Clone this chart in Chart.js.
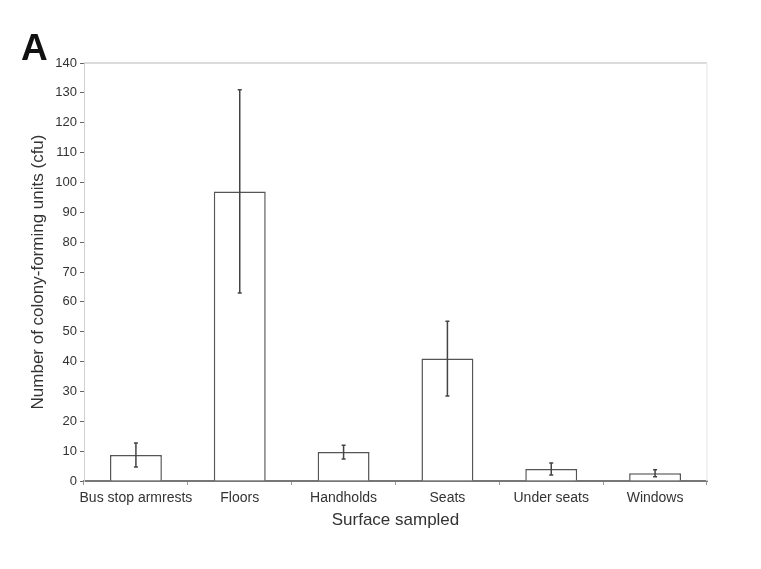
<!DOCTYPE html>
<html>
<head>
<meta charset="utf-8">
<script src="https://cdn.jsdelivr.net/npm/chart.js@4.4.1/dist/chart.umd.min.js"></script>
<style>
html,body{margin:0;padding:0;background:#fff;}
#wrap{width:761px;height:569px;position:relative;}
</style>
</head>
<body>
<div id="wrap"><canvas id="c" width="761" height="569"></canvas></div>
<script>
const categories = ["Bus stop armrests", "Floors", "Handholds", "Seats", "Under seats", "Windows"];
const meanCfu = [8.7, 97, 9.7, 41, 4.0, 2.6];
const errCfu = [4.0, 34, 2.3, 12.5, 2.0, 1.2];
const yTicks = [0, 10, 20, 30, 40, 50, 60, 70, 80, 90, 100, 110, 120, 130, 140];
const panelLabel = "A";

const FONT = "'Liberation Sans', Arial, sans-serif";

const errorBars = {
  id: 'errorBars',
  afterDatasetsDraw(chart) {
    const ctx = chart.ctx;
    const meta = chart.getDatasetMeta(0);
    const y = chart.scales.y;
    ctx.save();
    ctx.strokeStyle = '#444';
    ctx.lineWidth = 1.5;
    meta.data.forEach((bar, i) => {
      const x = bar.x;
      const yt = y.getPixelForValue(meanCfu[i] + errCfu[i]);
      const yb = y.getPixelForValue(meanCfu[i] - errCfu[i]);
      ctx.beginPath();
      ctx.moveTo(x, yt); ctx.lineTo(x, yb);
      ctx.moveTo(x - 2, yt); ctx.lineTo(x + 2, yt);
      ctx.moveTo(x - 2, yb); ctx.lineTo(x + 2, yb);
      ctx.stroke();
    });
    ctx.restore();
  }
};

const frame = {
  id: 'frame',
  beforeDatasetsDraw(chart) {
    const {ctx, chartArea: a} = chart;
    ctx.save();
    ctx.lineWidth = 1.5;
    ctx.strokeStyle = '#cfcfcf';
    ctx.beginPath(); ctx.moveTo(a.left, a.top); ctx.lineTo(a.right, a.top); ctx.stroke();
    ctx.strokeStyle = '#ececec';
    ctx.beginPath(); ctx.moveTo(a.right, a.top); ctx.lineTo(a.right, a.bottom); ctx.stroke();
    ctx.restore();
  },
  afterDraw(chart) {
    const ctx = chart.ctx;
    ctx.save();
    ctx.fillStyle = '#111';
    ctx.font = "bold 37px " + FONT;
    ctx.textBaseline = 'alphabetic';
    ctx.fillText(panelLabel, 21, 60);
    ctx.restore();
  }
};

new Chart(document.getElementById('c'), {
  type: 'bar',
  data: {
    labels: categories,
    datasets: [{
      data: meanCfu,
      backgroundColor: '#ffffff',
      borderColor: '#555555',
      borderWidth: 1.5,
      barPercentage: 0.5,
      categoryPercentage: 1.0
    }]
  },
  plugins: [frame, errorBars],
  options: {
    responsive: false,
    animation: false,
    devicePixelRatio: 1,
    layout: { padding: { top: 63, right: 54, left: 0, bottom: 0 } },
    plugins: { legend: { display: false }, tooltip: { enabled: false } },
    scales: {
      x: {
        grid: { offset: true, drawOnChartArea: false, drawTicks: true, tickLength: 4, color: '#999', lineWidth: 1 },
        border: { display: true, color: '#777', width: 2 },
        ticks: { color: '#333', font: { family: FONT, size: 14 }, padding: 5, maxRotation: 0, autoSkip: false },
        title: { display: true, text: 'Surface sampled', color: '#333', font: { family: FONT, size: 17 }, padding: { top: 0, bottom: 38 } },
        afterFit(s) { s.height = 88; }
      },
      y: {
        min: 0, max: 140,
        afterBuildTicks(s) { s.ticks = yTicks.map(v => ({ value: v })); },
        grid: { drawOnChartArea: false, drawTicks: true, tickLength: 4, color: '#666', lineWidth: 1 },
        border: { display: true, color: '#d0d0d0', width: 1 },
        ticks: { color: '#333', font: { family: FONT, size: 13 }, padding: 3 },
        title: { display: true, text: 'Number of colony-forming units (cfu)', color: '#333', font: { family: FONT, size: 17 }, padding: { top: 28, bottom: 0 } },
        afterFit(s) { s.width = 84; }
      }
    }
  }
});
</script>
</body>
</html>
